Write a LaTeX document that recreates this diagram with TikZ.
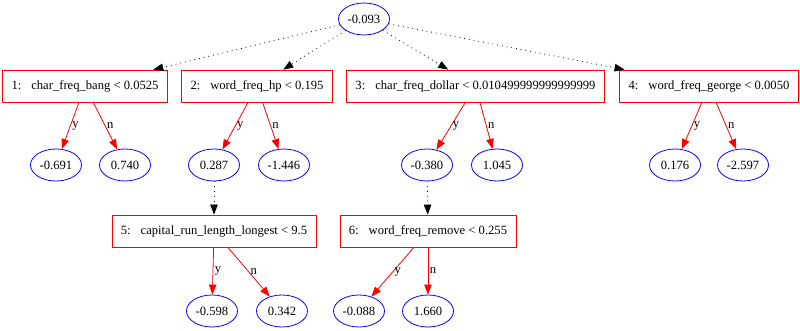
\documentclass[tikz,border=0pt]{standalone}
\usepackage{fontspec}
\setmainfont{Liberation Serif}
\usetikzlibrary{arrows.meta,shapes.geometric}
\definecolor{nred}{HTML}{FF0000}
\definecolor{nblue}{HTML}{0000FF}
\newcommand{\colgap}{\hspace{10pt}}
\tikzset{
  % split nodes: red boxes, leaf values: blue ellipses
  split/.style = {rectangle, draw=nred, line width=0.8pt, inner xsep=9pt,
                  minimum height=32pt, font=\fontsize{12.6}{14}\selectfont},
  leaf/.style  = {ellipse, draw=nblue, line width=0.8pt, inner xsep=1pt, inner ysep=0pt,
                  minimum width=51pt, minimum height=32pt, font=\fontsize{12.6}{14}\selectfont},
  yes/.style   = {-{Triangle[length=10pt,width=7.5pt]}, nred, line width=0.8pt},
  skip/.style  = {-{Triangle[length=10pt,width=7.5pt]}, black, line width=0.8pt,
                  dash pattern=on 0.8pt off 4pt},
  lbl/.style   = {font=\fontsize{12.6}{14}\selectfont, text=black, inner sep=1.5pt},
}
\begin{document}
\begin{tikzpicture}[x=1pt,y=-1pt]
\useasboundingbox (0,0) rectangle (800,331);
% root
\node[leaf] (root) at (364,19) {-0.093};
% first split row
\node[split] (b1) at (85,86)    {1:\colgap char\_freq\_bang < 0.0525};
\node[split] (b2) at (257,86)   {2:\colgap word\_freq\_hp < 0.195};
\node[split] (b3) at (475.5,86) {3:\colgap char\_freq\_dollar < 0.010499999999999999};
\node[split] (b4) at (709,86)   {4:\colgap word\_freq\_george < 0.0050};
% leaves of the first row
\node[leaf] (l1y) at (56,165)  {-0.691};
\node[leaf] (l1n) at (125,165) {0.740};
\node[leaf] (l2y) at (214,165) {0.287};
\node[leaf] (l2n) at (284,165) {-1.446};
\node[leaf] (l3y) at (427,165) {-0.380};
\node[leaf] (l3n) at (497,165) {1.045};
\node[leaf] (l4y) at (675,165) {0.176};
\node[leaf] (l4n) at (743,165) {-2.597};
% second split row
\node[split] (b5) at (214,231) {5:\colgap capital\_run\_length\_longest < 9.5};
\node[split] (b6) at (428,231) {6:\colgap word\_freq\_remove < 0.255};
\node[leaf] (l5y) at (212,311) {-0.598};
\node[leaf] (l5n) at (282,311) {0.342};
\node[leaf] (l6y) at (359,311) {-0.088};
\node[leaf] (l6n) at (428,311) {1.660};
% dotted links
\foreach \b in {b1,b2,b3,b4} {\draw[skip] (root) -- (\b);}
\draw[skip] (l2y) -- (b5);
\draw[skip] (l3y) -- (b6);
% yes / no branches
\foreach \b/\l in {b1/l1,b2/l2,b3/l3,b4/l4,b5/l5,b6/l6} {
  \draw[yes] (\b) -- (\l y) node[lbl, pos=.5, right] {y};
  \draw[yes] (\b) -- (\l n) node[lbl, pos=.5, right] {n};
}
\end{tikzpicture}
\end{document}
